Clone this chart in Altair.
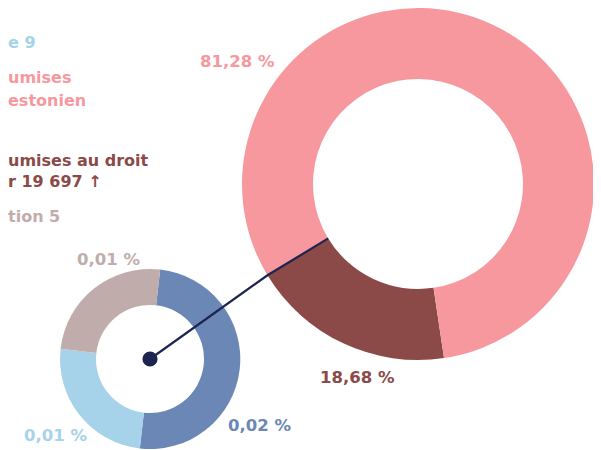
import math
import altair as alt
import pandas as pd

# ---- data ----
big_labels = ["18,68 %", "81,28 %"]
big_values = [18.68, 81.28]
big_colors = ["#8b4a48", "#f7989e"]

small_labels = ["0,02 %", "0,01 %", "0,01 %"]
small_values = [0.02, 0.01, 0.01]
small_colors = ["#6a87b5", "#a6d2ea", "#c0adab"]

legend_texts = ["e 9", "umises", "estonien", "umises au droit", "r 19 697 \u2191", "tion 5"]
legend_colors = ["#a6d2ea", "#f7989e", "#f7989e", "#8b4a48", "#8b4a48", "#c0adab"]

# ---- layout (pixels in the chart) ----
W, H = 585, 442
BIG_C = (410, 176)
BIG_R = (105, 176)
BIG_START = math.radians(171.5)
SMALL_C = (142, 351)
SMALL_R = (54, 90)
SMALL_START = math.radians(6.5)
FONT = "DejaVu Sans"
NAVY = "#1e2450"

big_label_pos = [(312, 375), (192, 59)]
small_label_pos = [(220, 423), (16, 433), (69, 257)]
legend_pos = [(0, 40), (0, 75), (0, 98), (0, 158), (0, 179), (0, 214)]

big_df = pd.DataFrame({"idx": range(len(big_values)), "value": big_values,
                       "color": big_colors, "label": big_labels})
small_df = pd.DataFrame({"idx": range(len(small_values)), "value": small_values,
                         "color": small_colors, "label": small_labels})


def donut(df, center, radii, start):
    return alt.Chart(df).mark_arc(
        innerRadius=radii[0], outerRadius=radii[1], stroke=None
    ).encode(
        theta=alt.Theta("value:Q", stack=True,
                        scale=alt.Scale(range=[start, start + 2 * math.pi])),
        order=alt.Order("idx:Q"),
        color=alt.Color("color:N", scale=None),
        x=alt.value(center[0]),
        y=alt.value(center[1]),
    )


big = donut(big_df, BIG_C, BIG_R, BIG_START)
small = donut(small_df, SMALL_C, SMALL_R, SMALL_START)

# connector: from small donut centre to the brown/pink boundary of the big donut
frac = big_values[0] / sum(big_values)
ang = BIG_START + 2 * math.pi * frac
pts = [SMALL_C,
       (BIG_C[0] + BIG_R[1] * math.sin(ang), BIG_C[1] - BIG_R[1] * math.cos(ang)),
       (BIG_C[0] + BIG_R[0] * math.sin(ang), BIG_C[1] - BIG_R[0] * math.cos(ang))]
line_df = pd.DataFrame({"o": range(3), "x": [p[0] for p in pts], "y": [p[1] for p in pts]})
xs = alt.Scale(domain=[0, W], range=[0, W])
ys = alt.Scale(domain=[0, H], range=[0, H])

connector = alt.Chart(line_df).mark_line(color=NAVY, strokeWidth=2.2).encode(
    x=alt.X("x:Q", scale=xs, axis=None),
    y=alt.Y("y:Q", scale=ys, axis=None),
    order="o:Q",
)
dot = alt.Chart(line_df.iloc[[0]]).mark_circle(color=NAVY, opacity=1, size=230).encode(
    x=alt.X("x:Q", scale=xs, axis=None),
    y=alt.Y("y:Q", scale=ys, axis=None),
)

# percentage labels
lab_df = pd.DataFrame({
    "label": big_labels + small_labels,
    "color": big_colors + small_colors,
    "px": [p[0] for p in big_label_pos + small_label_pos],
    "py": [p[1] for p in big_label_pos + small_label_pos],
})
labels = alt.Chart(lab_df).mark_text(
    align="left", baseline="alphabetic", font=FONT, fontSize=16.5, fontWeight="bold"
).encode(
    x=alt.X("px:Q", scale=xs, axis=None),
    y=alt.Y("py:Q", scale=ys, axis=None),
    text="label:N",
    color=alt.Color("color:N", scale=None),
)

leg_df = pd.DataFrame({
    "t": legend_texts, "color": legend_colors,
    "px": [p[0] for p in legend_pos], "py": [p[1] for p in legend_pos],
})
legend = alt.Chart(leg_df).mark_text(
    align="left", baseline="alphabetic", font=FONT, fontSize=16, fontWeight="bold"
).encode(
    x=alt.X("px:Q", scale=xs, axis=None),
    y=alt.Y("py:Q", scale=ys, axis=None),
    text="t:N",
    color=alt.Color("color:N", scale=None),
)

chart = alt.layer(big, small, connector, dot, labels, legend).resolve_scale(
    theta="independent"
).properties(
    width=W, height=H, padding=0,
    autosize=alt.AutoSizeParams(type="none"),
).configure_view(stroke=None)

chart.save("out.html", embed_options={"renderer": "svg", "actions": False})
